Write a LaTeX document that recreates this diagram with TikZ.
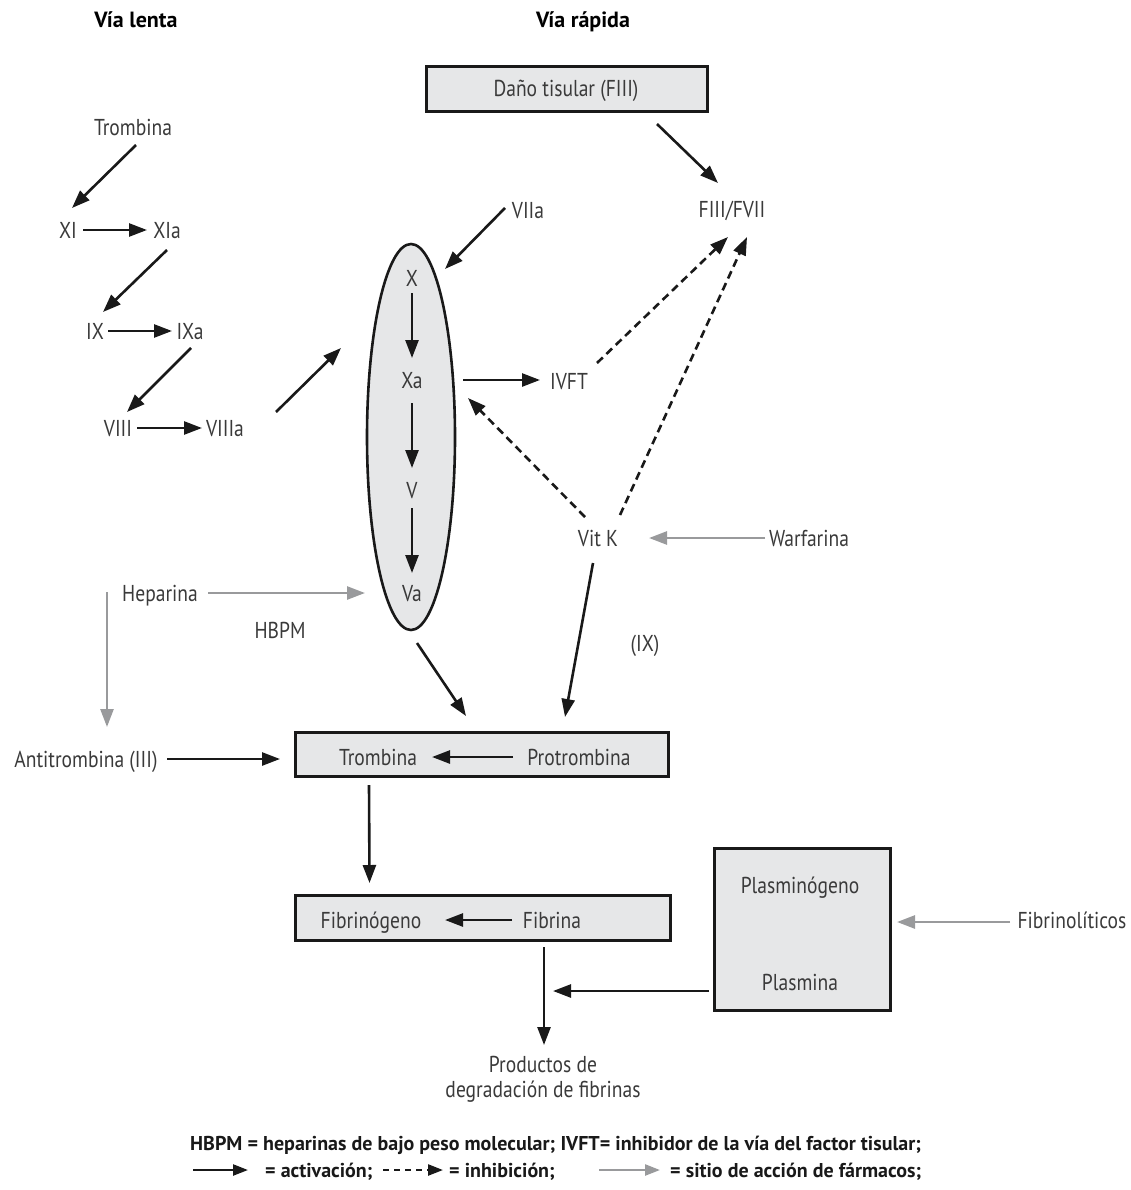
\documentclass[tikz,border=0pt]{standalone}
\usepackage{fontspec}
\setmainfont{PT Sans}[FakeStretch=0.85]
\newfontfamily\legfont{PT Sans}
\usetikzlibrary{arrows.meta,shapes.geometric}
\definecolor{lblgray}{HTML}{3A3A3A}
\definecolor{boxfill}{HTML}{E6E7E8}
\definecolor{drugc}{HTML}{999A9C}

\begin{document}
\begin{tikzpicture}[x=1pt,y=-1pt,
  lbl/.style={font=\fontsize{23}{27}\selectfont, text=lblgray, inner sep=0pt, text height=16pt, text depth=0pt},
  ttl/.style={font=\legfont\fontsize{22}{26}\selectfont\bfseries, text=black, inner sep=0pt, text height=15.5pt, text depth=0pt},
  leg/.style={font=\legfont\fontsize{20}{24}\selectfont\bfseries, text=black!90, inner sep=0pt, text height=14pt, text depth=0pt, anchor=west},
  gbox/.style={draw=black!90, line width=3pt, fill=boxfill, inner sep=0pt},
  act/.style={draw=black!90, line width=2.6pt, -{Triangle[length=18pt,width=13pt]}},
  inh/.style={act, dash pattern=on 8pt off 5pt},
  drug/.style={draw=drugc, line width=2.6pt, -{Triangle[length=18pt,width=13pt]}},
  legact/.style={draw=black!90, line width=2.4pt, -{Triangle[length=15pt,width=11pt]}},
  leginh/.style={legact, dash pattern=on 6pt off 5pt},
  legdrug/.style={draw=drugc, line width=2.4pt, -{Triangle[length=15pt,width=11pt]}},
]
\useasboundingbox (0,0) rectangle (1130,1190);

% titles
\node[ttl] (titleL) at (136,20) {Vía lenta};
\node[ttl] (titleR) at (583,20) {Vía rápida};

% boxes and the X/V ellipse
\node[gbox, minimum width=281pt, minimum height=45pt] (dano) at (566.5,89.5) {};
\node[lbl] (danot) at (566,89) {Daño tisular (FIII)};
\node[gbox, ellipse, line width=2.6pt, minimum width=88pt, minimum height=386pt] (ell) at (411,437) {};
\node[gbox, minimum width=373pt, minimum height=44pt] (tbox) at (482,754) {};
\node[gbox, minimum width=375pt, minimum height=45pt] (fbox) at (482.5,917.5) {};
\node[gbox, minimum width=176pt, minimum height=162pt] (pbox) at (802,929) {};

% slow pathway
\node[lbl] (trom) at (133,128) {Trombina};
\node[lbl] (xi) at (68,230) {XI};
\node[lbl] (xia) at (167,230) {XIa};
\node[lbl] (ix) at (95,331) {IX};
\node[lbl] (ixa) at (190,331) {IXa};
\node[lbl] (viii) at (118,428) {VIII};
\node[lbl] (viiia) at (225,428) {VIIIa};

% fast pathway and common path
\node[lbl] (fvii) at (732,210) {FIII/FVII};
\node[lbl] (viia) at (528,211) {VIIa};
\node[lbl] (x) at (412,278) {X};
\node[lbl] (xa) at (412,380) {Xa};
\node[lbl] (v) at (412,490) {V};
\node[lbl] (va) at (412,593) {Va};
\node[lbl] (ivft) at (569,381) {IVFT};
\node[lbl] (vitk) at (598,538) {Vit K};
\node[lbl] (warf) at (809,538) {Warfarina};
\node[lbl] (ixp) at (645,643) {(IX)};
\node[lbl] (hep) at (160,593) {Heparina};
\node[lbl] (hbpm) at (280,630) {HBPM};
\node[lbl] (anti) at (86,759) {Antitrombina (III)};
\node[lbl] (trmb) at (378,757) {Trombina};
\node[lbl] (prot) at (579,757) {Protrombina};
\node[lbl] (fibg) at (371,920) {Fibrinógeno};
\node[lbl] (fibr) at (552,920) {Fibrina};
\node[lbl] (plg) at (800,885) {Plasminógeno};
\node[lbl] (plm) at (800,982) {Plasmina};
\node[lbl] (fibl) at (1072,920) {Fibrinolíticos};
\node[lbl] (prod1) at (543,1064) {Productos de};
\node[lbl] (prod2) at (543,1089) {degradación de fibrinas};

% slow pathway arrows
\draw[act] ([shift={(3,17)}]trom.center) -- ([shift={(4,-22)}]xi.center);
\draw[act] ([shift={(15,0)}]xi.center) -- ([shift={(-20,0)}]xia.center);
\draw[act] ([shift={(0,20)}]xia.center) -- ([shift={(8,-19)}]ix.center);
\draw[act] ([shift={(13,0)}]ix.center) -- ([shift={(-18,0)}]ixa.center);
\draw[act] ([shift={(1,17)}]ixa.center) -- ([shift={(9,-16)}]viii.center);
\draw[act] ([shift={(19,0)}]viii.center) -- ([shift={(-23,0)}]viiia.center);
\draw[act] ([shift={(51,-16)}]viiia.center) -- ([shift={(-70,-89)}]ell.center);

% fast pathway arrows
\draw[act] ([shift={(-23,-3)}]viia.center) -- ([shift={(34,-168)}]ell.center);
\draw[act] ([shift={(90.5,34.5)}]dano.center) -- ([shift={(-14,-27)}]fvii.center);
\draw[act] ([shift={(0,15)}]x.center) -- ([shift={(0,-22)}]xa.center);
\draw[act] ([shift={(0,23)}]xa.center) -- ([shift={(0,-22)}]v.center);
\draw[act] ([shift={(0,18)}]v.center) -- ([shift={(0,-20)}]va.center);
\draw[act] ([shift={(51,0)}]xa.center) -- ([shift={(-29,-1)}]ivft.center);
\draw[inh] ([shift={(28,-18)}]ivft.center) -- ([shift={(-4,27)}]fvii.center);
\draw[inh] ([shift={(22,-23)}]vitk.center) -- ([shift={(15,27)}]fvii.center);
\draw[inh] ([shift={(-13,-21)}]vitk.center) -- ([shift={(56,18)}]xa.center);
\draw[drug] ([shift={(-44,0)}]warf.center) -- ([shift={(51,0)}]vitk.center);
\draw[act] ([shift={(-5,25)}]vitk.center) -- ([shift={(83,-37)}]tbox.center);
\draw[act] ([shift={(6,206)}]ell.center) -- ([shift={(-16,-38)}]tbox.center);

% anticoagulants
\draw[drug] ([shift={(48,0)}]hep.center) -- ([shift={(-47,0)}]va.center);
\draw[drug] ([shift={(-53,-1)}]hep.center) -- ([shift={(21,-32)}]anti.center);
\draw[act] ([shift={(81,0)}]anti.center) -- ([shift={(-202,5)}]tbox.center);

% common pathway
\draw[act] ([shift={(-66,0)}]prot.center) -- ([shift={(54,0)}]trmb.center);
\draw[act] ([shift={(-113,31)}]tbox.center) -- ([shift={(-113,-34.5)}]fbox.center);
\draw[act] ([shift={(-40,0)}]fibr.center) -- ([shift={(74,0)}]fibg.center);
\draw[act] ([shift={(61.5,29.5)}]fbox.center) -- ([shift={(1,-19)}]prod1.center);
\coordinate (lysis) at (553,991);
\draw[act] ([shift={(-93,62)}]pbox.center) -- (lysis);
\draw[drug] ([shift={(-62,2)}]fibl.center) -- ([shift={(95,-7)}]pbox.center);

% legend
\node[leg] (leg1) at (190,1143) {HBPM = heparinas de bajo peso molecular; IVFT= inhibidor de la vía del factor tisular;};
\coordinate (la0) at (193,1170); \coordinate (la1) at (248,1170);
\coordinate (li0) at (383,1170); \coordinate (li1) at (443,1170);
\coordinate (ld0) at (599,1170); \coordinate (ld1) at (660,1170);
\draw[legact] (la0) -- (la1);
\node[leg] (leg2) at (265,1170) {= activación;};
\draw[leginh] (li0) -- (li1);
\node[leg] (leg3) at (449,1170) {= inhibición;};
\draw[legdrug] (ld0) -- (ld1);
\node[leg] (leg4) at (670,1170) {= sitio de acción de fármacos;};
\end{tikzpicture}
\end{document}
